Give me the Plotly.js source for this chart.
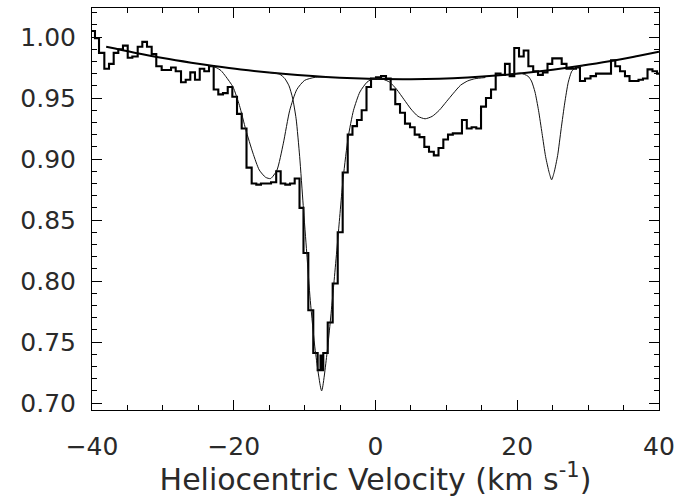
<!DOCTYPE html>
<html><head><meta charset="utf-8">
<script src="https://cdn.plot.ly/plotly-3.0.1.min.js"></script>
<style>body{margin:0;background:#fff}</style>
</head><body><div id="chart" style="width:696px;height:497px"></div>
<script>
// Observed spectrum: left edge of each velocity bin (km/s) and normalised flux
const velocityEdges = [-40.0,-39.58,-39.01,-38.26,-37.60,-36.94,-36.29,-35.63,-34.96,-34.31,
-33.55,-32.90,-32.24,-31.58,-30.93,-30.17,-29.52,-28.85,-28.19,-27.44,
-26.78,-26.13,-25.47,-24.80,-24.16,-23.49,-22.83,-22.18,-21.52,-20.85,
-20.20,-19.54,-18.88,-18.20,-17.47,-16.82,-16.16,-15.45,-14.74,-14.01,
-13.38,-12.73,-12.06,-11.40,-10.72,-10.16,-9.48,-8.78,-8.16,-7.76,
-7.62,-7.37,-6.74,-6.04,-5.33,-4.63,-3.92,-3.25,-2.61,-1.95,
-1.27,-0.63,0.07,0.78,1.48,2.14,2.79,3.46,4.16,4.87,
5.53,6.21,6.89,7.55,8.23,8.89,9.57,10.23,10.91,11.57,
12.20,12.88,13.56,14.22,14.89,15.59,16.30,16.96,17.64,18.27,
18.93,19.58,20.25,20.91,21.57,22.25,22.93,23.61,24.27,24.94,
25.61,26.27,26.95,27.61,28.29,28.85,29.56,30.34,31.11,31.82,
32.52,33.23,33.83,34.50,35.20,35.84,36.47,37.11,37.74,38.38,
39.08,39.72];
const lastEdge = 40.0;
const flux = [1.005,0.999,0.987,0.974,0.978,0.987,0.990,0.993,0.983,0.984,
0.992,0.996,0.992,0.986,0.976,0.973,0.973,0.975,0.972,0.963,
0.965,0.971,0.965,0.974,0.972,0.976,0.957,0.953,0.954,0.959,
0.951,0.937,0.925,0.893,0.880,0.879,0.880,0.880,0.881,0.890,
0.880,0.879,0.880,0.884,0.860,0.823,0.776,0.741,0.727,0.739,
0.727,0.741,0.766,0.798,0.840,0.889,0.920,0.927,0.932,0.940,
0.959,0.966,0.967,0.968,0.966,0.957,0.945,0.938,0.929,0.926,
0.920,0.918,0.910,0.906,0.903,0.909,0.916,0.920,0.921,0.921,
0.932,0.925,0.926,0.925,0.943,0.950,0.957,0.970,0.969,0.978,
0.968,0.991,0.984,0.989,0.976,0.972,0.969,0.971,0.978,0.9825,
0.9825,0.978,0.974,0.974,0.975,0.964,0.966,0.968,0.970,0.970,
0.970,0.981,0.976,0.972,0.968,0.964,0.964,0.965,0.966,0.9735,
0.972,0.970];

// Continuum fit
const contV = [-38,-34,-30,-26,-22.8,-19,-15,-11,-7,-3,1,5,9,13,17,21,25,29,33,37,40];
const contY = [0.992,0.9872,0.9828,0.979,0.9763,0.9734,0.9709,0.9689,0.9673,0.9662,0.9656,0.9655,0.9659,0.9669,0.9684,0.9705,0.9732,0.9764,0.9801,0.9845,0.988];

// Individual absorption components
const compAV = [-23.5,-22.5,-21.8,-21.1,-20.1,-19.2,-18.3,-17.3,-16.4,-15.5,-14.8,-13.9,-13.0,-12.1,-11.1,-10.0,-8.5,-6.5];
const compAY = [0.9765,0.9750,0.9725,0.9675,0.959,0.944,0.924,0.905,0.891,0.885,0.884,0.891,0.913,0.940,0.957,0.9645,0.967,0.967];
const compBV = [-15,-13.5,-12.8,-12.2,-11.7,-11.2,-10.7,-10.2,-9.7,-9.2,-8.5,-7.6,-6.8,-6.0,-5.25,-4.55,-3.85,-3.1,-2.2,-1.2,-0.3,1.0];
const compBY = [0.9709,0.9695,0.966,0.960,0.950,0.933,0.902,0.862,0.823,0.784,0.743,0.710,0.743,0.790,0.839,0.885,0.918,0.940,0.955,0.963,0.966,0.9656];
const compCV = [0,1,2,3,4,5,6,7,8,9,10,11,12,13,14,15.5];
const compCY = [0.966,0.9655,0.963,0.957,0.949,0.941,0.935,0.933,0.935,0.940,0.947,0.954,0.9605,0.964,0.9658,0.9668];
const compDV = [19.0,20.5,21.5,22.0,22.5,23.0,23.5,24.0,24.5,24.85,25.2,25.7,26.2,26.7,27.2,27.7,28.3,29.5];
const compDY = [0.9695,0.9703,0.968,0.964,0.955,0.940,0.921,0.902,0.889,0.883,0.889,0.903,0.925,0.946,0.963,0.972,0.975,0.977];

const thin = {color:'#111', width:1, shape:'spline', smoothing:0.6};
const traces = [
  {x: velocityEdges.concat([lastEdge]), y: flux.concat([flux[flux.length-1]]),
   mode:'lines', line:{color:'#000', width:2.1, shape:'hv'}, hoverinfo:'skip'},
  {x: contV, y: contY, mode:'lines', line:{color:'#000', width:2, shape:'spline'}},
  {x: compAV, y: compAY, mode:'lines', line:thin},
  {x: compBV, y: compBY, mode:'lines', line:thin},
  {x: compCV, y: compCY, mode:'lines', line:thin},
  {x: compDV, y: compDY, mode:'lines', line:thin}
];

const font = {family:'DejaVu Sans', size:25, color:'#2a2a2a'};
const layout = {
  width:696, height:497, showlegend:false,
  paper_bgcolor:'#fff', plot_bgcolor:'#fff',
  margin:{l:92, r:37, t:8, b:87},
  xaxis:{range:[-40,40], tick0:0, dtick:20, ticks:'inside', ticklen:10, tickwidth:1, tickcolor:'#000',
    showline:true, linecolor:'#000', linewidth:1, mirror:'ticks', showgrid:false, zeroline:false,
    minor:{dtick:5, ticks:'inside', ticklen:5, tickcolor:'#000', showgrid:false},
    tickfont:font, ticklabelstandoff:14,
    title:{text:'Heliocentric Velocity (km s<sup>-1</sup>)', font:{family:'DejaVu Sans', size:30, color:'#2a2a2a'}, standoff:6}},
  yaxis:{range:[0.6943,1.0238], tick0:0.70, dtick:0.05, tickformat:'.2f', ticks:'inside', ticklen:10, tickwidth:1, tickcolor:'#000',
    showline:true, linecolor:'#000', linewidth:1, mirror:'ticks', showgrid:false, zeroline:false,
    minor:{dtick:0.01, ticks:'inside', ticklen:5, tickcolor:'#000', showgrid:false},
    tickfont:font, ticklabelstandoff:10}
};
Plotly.newPlot('chart', traces, layout, {displayModeBar:false, staticPlot:true});
</script>
</body></html>
